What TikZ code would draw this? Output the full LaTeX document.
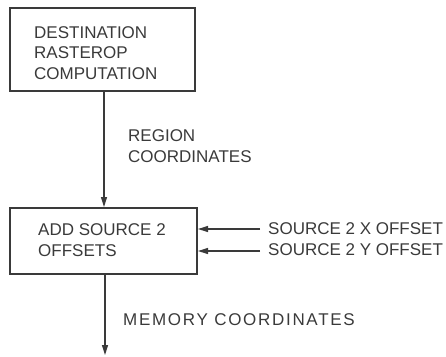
\documentclass[tikz,border=0pt]{standalone}
\usepackage{fontspec}
\setmainfont{Liberation Sans}
\usetikzlibrary{arrows.meta}
\definecolor{ink}{HTML}{3A3A3A}
\tikzset{
  blk/.style={draw=ink, line width=2pt, inner sep=0pt},
  flow/.style={draw=ink, line width=1.4pt, -{Triangle[length=10pt,width=6pt]}},
  lbl/.style={text=ink, font=\fontsize{17}{20.5}\selectfont, align=left, inner sep=0pt, anchor=west},
}
\begin{document}
\begin{tikzpicture}[x=1pt,y=-1pt]
\useasboundingbox (0,0) rectangle (446,356);
\node[blk, minimum width=185pt, minimum height=83pt, anchor=north west] (top) at (9,7) {};
\node[lbl] (toptxt) at (34,53) {DESTINATION\\RASTEROP\\COMPUTATION};
\node[blk, minimum width=187pt, minimum height=66pt, anchor=north west] (add) at (9,207) {};
\node[lbl] (addtxt) at (38,240) {ADD SOURCE 2\\OFFSETS};
\draw[flow] (top.south -| 104,0) -- (add.north -| 104,0);
\node[lbl] (region) at (128,146) {REGION\\COORDINATES};
\node[lbl] (sx) at (268,229) {SOURCE 2 X OFFSET};
\node[lbl] (sy) at (268,250) {SOURCE 2 Y OFFSET};
\coordinate (sxs) at (260,229);
\coordinate (sys) at (260,251);
\draw[flow] (sxs) -- (sxs -| add.east);
\draw[flow] (sys) -- (sys -| add.east);
\coordinate (memend) at (105,355);
\draw[flow] (add.south -| memend) -- (memend);
\node[lbl] (mem) at (123,320) {\addfontfeature{LetterSpace=10}MEMORY COORDINATES};
\end{tikzpicture}
\end{document}
